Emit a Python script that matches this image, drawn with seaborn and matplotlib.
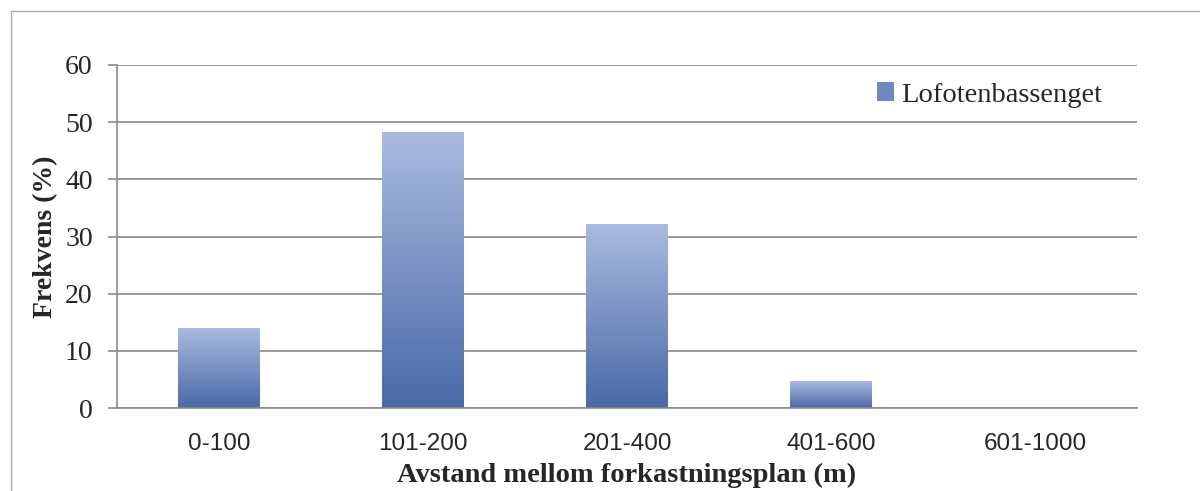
import numpy as np
import pandas as pd
import matplotlib
matplotlib.use("Agg")
import matplotlib.pyplot as plt
import seaborn as sns
from matplotlib.colors import LinearSegmentedColormap
from matplotlib.lines import Line2D
from matplotlib.patches import Rectangle

categories = ["0-100", "101-200", "201-400", "401-600", "601-1000"]
values = [14.0, 48.3, 32.2, 4.7, 0.0]
series_name = "Lofotenbassenget"
yticks = [0, 10, 20, 30, 40, 50, 60]

sns.set_theme(style="white")
plt.rcParams['font.family'] = ['Liberation Serif', 'DejaVu Serif']

df = pd.DataFrame({"Avstand": categories, "Frekvens": values})

fig = plt.figure(figsize=(12, 4.91), dpi=100)
fig.patch.set_facecolor("white")
ax = fig.add_axes([117/1200, 1-408/491, (1137-117)/1200, (408-65)/491])

top_c = "#aabbdf"
bot_c = "#4a69a8"
sns.barplot(data=df, x="Avstand", y="Frekvens", ax=ax, width=0.4,
            color="#7790c6", saturation=1, linewidth=0, zorder=3)

cmap = LinearSegmentedColormap.from_list("g", [bot_c, top_c])
grad = np.linspace(0, 1, 256).reshape(-1, 1)
for p in ax.patches:
    x0, y0 = p.get_x(), p.get_y()
    w, h = p.get_width(), p.get_height()
    if h <= 0:
        continue
    im = ax.imshow(grad, cmap=cmap, origin="lower", aspect="auto",
                   extent=[x0, x0 + w, y0, y0 + h], zorder=4)
    im.set_clip_path(p)

ax.set_xlim(-0.5, len(categories) - 0.5)
ax.set_ylim(0, 60)
ax.set_yticks(yticks)
ax.set_yticklabels([str(t) for t in yticks])

grid_c = "#8c8884"
ax.yaxis.grid(True, color=grid_c, linewidth=1.2, zorder=1)
ax.set_axisbelow(True)
for s in ["top", "right"]:
    ax.spines[s].set_visible(False)
ax.spines["left"].set_color(grid_c)
ax.spines["left"].set_linewidth(1.2)
ax.spines["bottom"].set_color(grid_c)
ax.spines["bottom"].set_linewidth(1.2)
ax.spines["bottom"].set_zorder(5)

ax.tick_params(axis="y", which="major", left=True, length=6.5, width=1.2,
               color=grid_c, pad=11, labelsize=20, labelcolor="#262626")
ax.tick_params(axis="x", bottom=False, pad=12, labelsize=17.5, labelcolor="#262626")
for lab in ax.get_xticklabels():
    lab.set_family(["Liberation Sans", "DejaVu Sans"])

ax.set_xlabel("Avstand mellom forkastningsplan (m)", fontsize=20.5, fontweight="bold",
              color="#262626")
ax.xaxis.set_label_coords(0.5, -0.16)
ax.set_ylabel("Frekvens (%)", fontsize=20, fontweight="bold", color="#262626")
ax.yaxis.set_label_coords(-0.058, 0.5)

handle = Rectangle((0, 0), 1, 1, facecolor="#6f88c0", edgecolor="none")
leg = fig.legend([handle], [series_name], loc="center right",
                 bbox_to_anchor=(1102/1200, 1-95/491), frameon=False,
                 fontsize=20.5, handlelength=0.6, handleheight=0.6,
                 handletextpad=0.25, borderpad=0, borderaxespad=0)
for t in leg.get_texts():
    t.set_color("#262626")

border_c = "#a8a8a8"
fig.add_artist(Line2D([11/1200, 1], [1-11/491, 1-11/491], color=border_c, linewidth=1,
                      transform=fig.transFigure))
fig.add_artist(Line2D([11/1200, 11/1200], [0, 1-11/491], color=border_c, linewidth=1,
                      transform=fig.transFigure))

fig.savefig("out.png", dpi=100)
